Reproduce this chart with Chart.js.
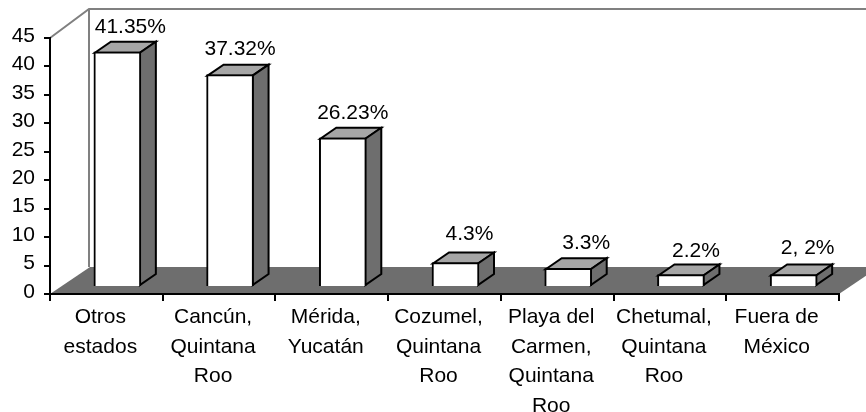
<!DOCTYPE html>
<html>
<head>
<meta charset="utf-8">
<style>
  html, body { margin: 0; padding: 0; background: #fff; }
  canvas { display: block; }
</style>
<script src="https://cdn.jsdelivr.net/npm/chart.js@4/dist/chart.umd.min.js"></script>
</head>
<body>
<canvas id="chart" width="866" height="412"></canvas>
<script>
const categories = [
  ["Otros", "estados"],
  ["Cancún,", "Quintana", "Roo"],
  ["Mérida,", "Yucatán"],
  ["Cozumel,", "Quintana", "Roo"],
  ["Playa del", "Carmen,", "Quintana", "Roo"],
  ["Chetumal,", "Quintana", "Roo"],
  ["Fuera de", "México"]
];
const values = [41.35, 37.32, 26.23, 4.3, 3.3, 2.2, 2.2];
const valueLabels = ["41.35%", "37.32%", "26.23%", "4.3%", "3.3%", "2.2%", "2, 2%"];

// excel style 3d look
const WALL_DX = 40, WALL_DY = 27;   // depth of the floor
const WALL_TOP_DY = 29;             // top edge of the wall sits a bit higher
const BAR_DX = 11, BAR_DY = 7;      // bars stand in the middle of the floor
const FACE_DX = 16, FACE_DY = 11;   // depth of one bar
// hand placed data labels, relative to the bar top
const labelShift = [[13, -25], [10, -25], [10, -25], [14, -28], [18, -25], [15, -23], [14, -26]];

const threeD = {
  id: "threeD",
  beforeDraw(chart) {
    const { ctx, chartArea: a } = chart;
    ctx.save();
    ctx.fillStyle = "#6e6e6e";
    ctx.beginPath();
    ctx.moveTo(a.left, a.bottom);
    ctx.lineTo(a.right, a.bottom);
    ctx.lineTo(a.right + WALL_DX, a.bottom - WALL_DY);
    ctx.lineTo(a.left + WALL_DX, a.bottom - WALL_DY);
    ctx.closePath();
    ctx.fill();
    ctx.strokeStyle = "#808080";
    ctx.lineWidth = 2;
    ctx.beginPath();
    ctx.moveTo(a.left, a.top);
    ctx.lineTo(a.left + WALL_DX - 1, a.top - WALL_TOP_DY);
    ctx.lineTo(a.right + WALL_DX, a.top - WALL_TOP_DY);
    ctx.moveTo(a.left + WALL_DX - 1, a.top - WALL_TOP_DY);
    ctx.lineTo(a.left + WALL_DX - 1, a.bottom - WALL_DY);
    ctx.stroke();
    ctx.restore();
  },
  beforeDatasetDraw(chart) {
    const ctx = chart.ctx;
    ctx.save();
    ctx.translate(BAR_DX, -BAR_DY);
    ctx.lineWidth = 2;
    ctx.strokeStyle = "#000";
    ctx.lineJoin = "miter";
    chart.getDatasetMeta(0).data.forEach((bar) => {
      const l = bar.x - bar.width / 2 + 1, r = bar.x + bar.width / 2 - 1;
      const t = bar.y + 1, b = bar.base - 1;
      ctx.fillStyle = "#a6a6a6";
      ctx.beginPath();
      ctx.moveTo(l, t);
      ctx.lineTo(l + FACE_DX, t - FACE_DY);
      ctx.lineTo(r + FACE_DX, t - FACE_DY);
      ctx.lineTo(r, t);
      ctx.closePath();
      ctx.fill();
      ctx.stroke();
      ctx.fillStyle = "#6e6e6e";
      ctx.beginPath();
      ctx.moveTo(r, t);
      ctx.lineTo(r + FACE_DX, t - FACE_DY);
      ctx.lineTo(r + FACE_DX, b - FACE_DY);
      ctx.lineTo(r, b);
      ctx.closePath();
      ctx.fill();
      ctx.stroke();
    });
  },
  afterDatasetDraw(chart) {
    const ctx = chart.ctx;
    ctx.restore();
    ctx.save();
    ctx.fillStyle = "#000";
    ctx.font = "21px 'Liberation Sans'";
    ctx.textAlign = "center";
    ctx.textBaseline = "middle";
    chart.getDatasetMeta(0).data.forEach((bar, i) => {
      ctx.fillText(valueLabels[i], bar.x + BAR_DX + labelShift[i][0], bar.y - BAR_DY + labelShift[i][1]);
    });
    ctx.restore();
  }
};

new Chart(document.getElementById("chart"), {
  type: "bar",
  data: {
    labels: categories,
    datasets: [{
      data: values,
      backgroundColor: "#fff",
      borderColor: "#000",
      borderWidth: 2,
      barThickness: 47,
      clip: false
    }]
  },
  options: {
    responsive: false,
    animation: false,
    layout: { padding: { top: 38, right: 27, left: 0, bottom: 0 } },
    plugins: { legend: { display: false }, tooltip: { enabled: false } },
    scales: {
      x: {
        afterFit(scale) { scale.height = 118; },
        grid: { drawOnChartArea: false, color: "#000", lineWidth: 2, tickLength: 7 },
        border: { color: "#000", width: 2 },
        ticks: {
          color: "#000",
          autoSkip: false,
          maxRotation: 0,
          padding: 2,
          labelOffset: -6,
          font: { family: "'Liberation Sans'", size: 21, lineHeight: 1.4 }
        }
      },
      y: {
        min: 0,
        max: 45,
        afterFit(scale) { scale.width = 50; },
        grid: { drawOnChartArea: false, color: "#000", lineWidth: 2, tickLength: 6 },
        border: { color: "#000", width: 2 },
        ticks: {
          stepSize: 5,
          color: "#000",
          padding: 9,
          labelOffset: -2,
          font: { family: "'Liberation Sans'", size: 21 }
        }
      }
    }
  },
  plugins: [threeD]
});
</script>
</body>
</html>
